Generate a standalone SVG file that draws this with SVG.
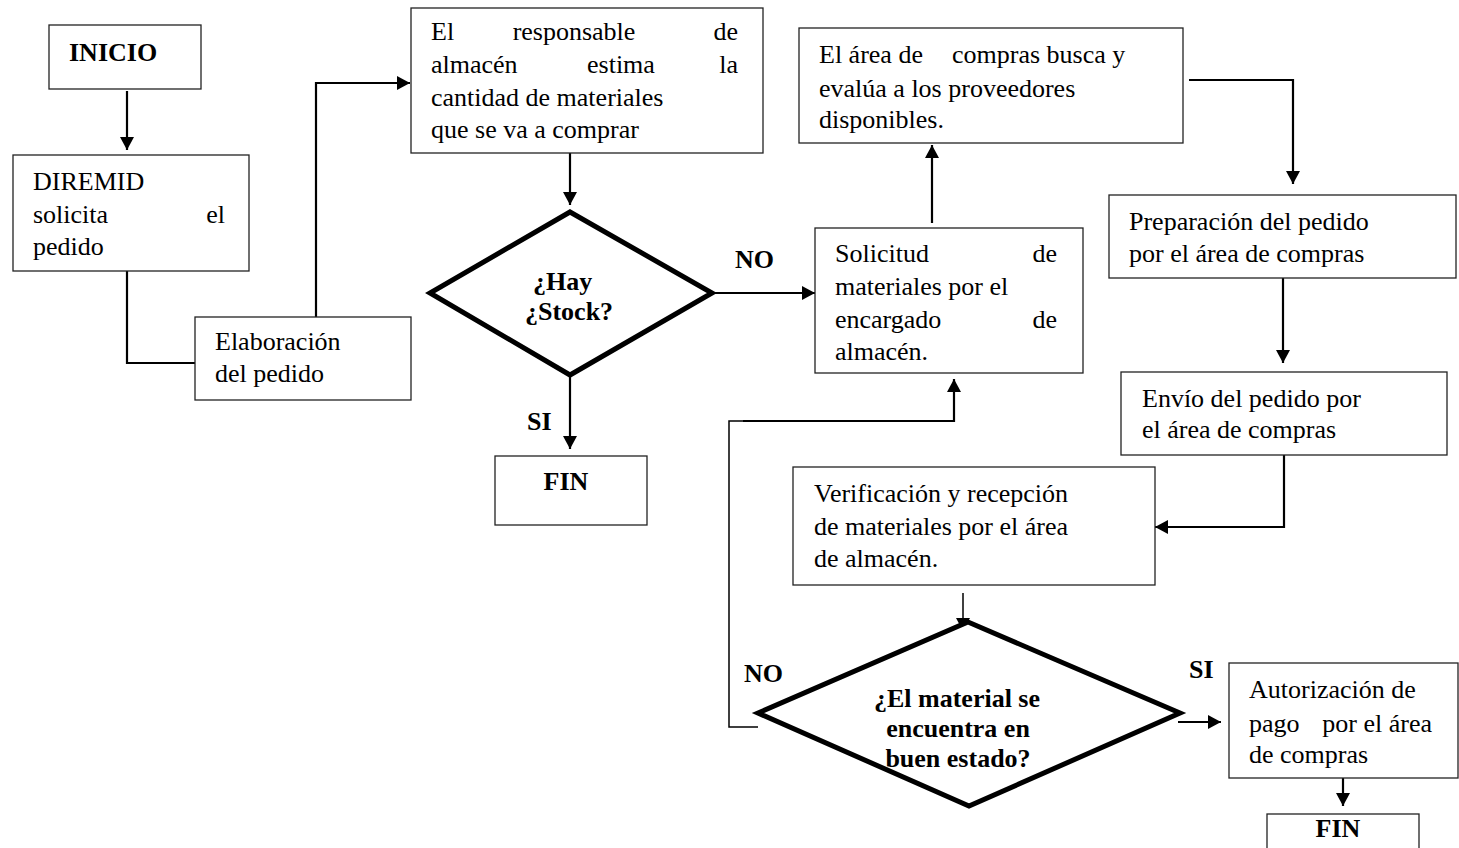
<svg xmlns="http://www.w3.org/2000/svg" width="1459" height="848" viewBox="0 0 1459 848">
<style>
.box{fill:#fff;stroke:#222;stroke-width:1.3}
.dia{fill:#fff;stroke:#000;stroke-width:5;stroke-linejoin:miter}
.t{font-family:"Liberation Serif","Times New Roman",serif;font-size:26px;fill:#000}
.b{font-weight:bold}
.c{text-anchor:middle}
.e{text-anchor:end}
.ln{fill:none;stroke:#000;stroke-width:2.2}
.thin{fill:none;stroke:#000;stroke-width:1.5}
</style>
<defs>
<marker id="ah" markerUnits="userSpaceOnUse" markerWidth="14" markerHeight="14" refX="13" refY="7" orient="auto">
<path d="M0,0 L13,7 L0,14 Z" fill="#000"/>
</marker>
</defs>
<rect width="1459" height="848" fill="#fff"/>

<g id="connectors">
<line class="ln" x1="127" y1="91" x2="127" y2="150" marker-end="url(#ah)"/>
<polyline class="ln" points="127,271 127,363 195,363"/>
<polyline class="ln" points="316,317 316,83 410,83" marker-end="url(#ah)"/>
<line class="ln" x1="570" y1="153" x2="570" y2="205" marker-end="url(#ah)"/>
<line class="ln" x1="712" y1="293" x2="815" y2="293" marker-end="url(#ah)"/>
<line class="ln" x1="570" y1="375" x2="570" y2="449" marker-end="url(#ah)"/>
<line class="ln" x1="932" y1="223" x2="932" y2="145" marker-end="url(#ah)"/>
<polyline class="ln" points="1189,80 1293,80 1293,184" marker-end="url(#ah)"/>
<line class="ln" x1="1283" y1="278" x2="1283" y2="363" marker-end="url(#ah)"/>
<polyline class="ln" points="1284,455 1284,527 1155,527" marker-end="url(#ah)"/>
<line class="thin" x1="963" y1="593" x2="963" y2="631" marker-end="url(#ah)"/>
<polyline class="thin" points="758,727 729,727 729,421 743,421"/>
<polyline class="ln" points="743,421 954,421 954,379" marker-end="url(#ah)"/>
<line class="ln" x1="1178" y1="722" x2="1221" y2="722" marker-end="url(#ah)"/>
<line class="ln" x1="1343" y1="778" x2="1343" y2="806" marker-end="url(#ah)"/>
</g>

<g id="inicio">
<rect class="box" x="49" y="25" width="152" height="64"/>
<text class="t b" x="69" y="61">INICIO</text>
</g>

<g id="diremid">
<rect class="box" x="13" y="155" width="236" height="116"/>
<text class="t" x="33" y="190">DIREMID</text>
<text class="t" x="33" y="223">solicita</text>
<text class="t e" x="225" y="223">el</text>
<text class="t" x="33" y="255">pedido</text>
</g>

<g id="elaboracion">
<rect class="box" x="195" y="317" width="216" height="83"/>
<text class="t" x="215" y="350">Elaboración</text>
<text class="t" x="215" y="382">del pedido</text>
</g>

<g id="responsable">
<rect class="box" x="411" y="8" width="352" height="145"/>
<text class="t" x="431" y="40">El</text>
<text class="t c" x="574" y="40">responsable</text>
<text class="t e" x="738" y="40">de</text>
<text class="t" x="431" y="73">almacén</text>
<text class="t" x="587" y="73">estima</text>
<text class="t e" x="738" y="73">la</text>
<text class="t" x="431" y="106">cantidad de materiales</text>
<text class="t" x="431" y="138">que se va a comprar</text>
</g>

<g id="decision-stock">
<polygon class="dia" points="570,212 712,293 570,375 430,293"/>
<text class="t b" x="533" y="290">¿Hay</text>
<text class="t b" x="525" y="320">¿Stock?</text>
</g>

<g id="label-no1"><text class="t b" x="735" y="268">NO</text></g>
<g id="label-si1"><text class="t b" x="527" y="430">SI</text></g>

<g id="fin1">
<rect class="box" x="495" y="456" width="152" height="69"/>
<text class="t b c" x="566" y="490">FIN</text>
</g>

<g id="solicitud">
<rect class="box" x="815" y="228" width="268" height="145"/>
<text class="t" x="835" y="262">Solicitud</text>
<text class="t e" x="1057" y="262">de</text>
<text class="t" x="835" y="295">materiales por el</text>
<text class="t" x="835" y="328">encargado</text>
<text class="t e" x="1057" y="328">de</text>
<text class="t" x="835" y="360">almacén.</text>
</g>

<g id="area-compras">
<rect class="box" x="799" y="28" width="384" height="115"/>
<text class="t" x="819" y="63">El área de</text>
<text class="t" x="952" y="63">compras busca y</text>
<text class="t" x="819" y="97">evalúa a los proveedores</text>
<text class="t" x="819" y="128">disponibles.</text>
</g>

<g id="preparacion">
<rect class="box" x="1109" y="195" width="347" height="83"/>
<text class="t" x="1129" y="230">Preparación del pedido</text>
<text class="t" x="1129" y="262">por el área de compras</text>
</g>

<g id="envio">
<rect class="box" x="1121" y="372" width="326" height="83"/>
<text class="t" x="1142" y="407">Envío del pedido por</text>
<text class="t" x="1142" y="438">el área de compras</text>
</g>

<g id="verificacion">
<rect class="box" x="793" y="467" width="362" height="118"/>
<text class="t" x="814" y="502">Verificación y recepción</text>
<text class="t" x="814" y="535">de materiales por el área</text>
<text class="t" x="814" y="567">de almacén.</text>
</g>

<g id="decision-estado">
<polygon class="dia" points="968,622 1180,713 969,806 758,713"/>
<text class="t b c" x="957" y="707">¿El material se</text>
<text class="t b c" x="958" y="737">encuentra en</text>
<text class="t b c" x="958" y="767">buen estado?</text>
</g>

<g id="label-no2"><text class="t b" x="744" y="682">NO</text></g>
<g id="label-si2"><text class="t b" x="1189" y="678">SI</text></g>

<g id="autorizacion">
<rect class="box" x="1229" y="663" width="229" height="115"/>
<text class="t" x="1249" y="698">Autorización de</text>
<text class="t" x="1249" y="732">pago</text>
<text class="t e" x="1432" y="732">por el área</text>
<text class="t" x="1249" y="763">de compras</text>
</g>

<g id="fin2">
<rect class="box" x="1267" y="814" width="152" height="50"/>
<text class="t b c" x="1338" y="837">FIN</text>
</g>
</svg>
